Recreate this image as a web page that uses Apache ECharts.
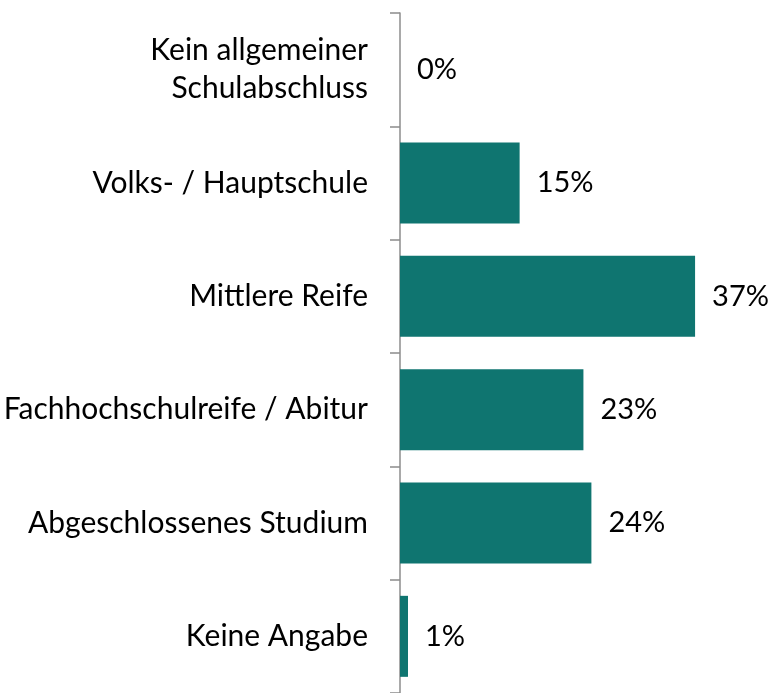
<!DOCTYPE html>
<html>
<head>
<meta charset="utf-8">
<script src="https://cdn.jsdelivr.net/npm/echarts@6/dist/echarts.min.js"></script>
<style>
  html, body { margin: 0; padding: 0; background: #fff; }
  #chart { width: 771px; height: 693px; }
</style>
</head>
<body>
<div id="chart"></div>
<script>
var categories = ['Kein allgemeiner\nSchulabschluss', 'Volks- / Hauptschule', 'Mittlere Reife',
    'Fachhochschulreife / Abitur', 'Abgeschlossenes Studium', 'Keine Angabe'];
var shares = [0, 15, 37, 23, 24, 1];

var myChart = echarts.init(document.getElementById('chart'));

var option = {
    animation: false,
    textStyle: { fontFamily: 'Lato' },
    grid: {
        left: 400,
        top: 13,
        width: 319,
        height: 684
    },
    xAxis: {
        type: 'value',
        min: 0,
        max: 40,
        show: false
    },
    yAxis: {
        type: 'category',
        inverse: true,
        data: categories,
        axisLine: { show: true, lineStyle: { color: '#8c8c8c', width: 1.5 } },
        axisTick: { show: true, inside: false, length: 10, lineStyle: { color: '#8c8c8c', width: 1.5 } },
        axisLabel: {
            margin: 32,
            fontSize: 30,
            color: '#000',
            lineHeight: 38,
            align: 'right'
        }
    },
    series: [{
        type: 'bar',
        data: shares,
        barWidth: 81,
        itemStyle: { color: '#0f7570' },
        label: {
            show: true,
            position: 'right',
            distance: 17,
            fontSize: 29,
            color: '#000',
            formatter: '{c}%'
        }
    }]
};
myChart.setOption(option);
</script>
</body>
</html>
